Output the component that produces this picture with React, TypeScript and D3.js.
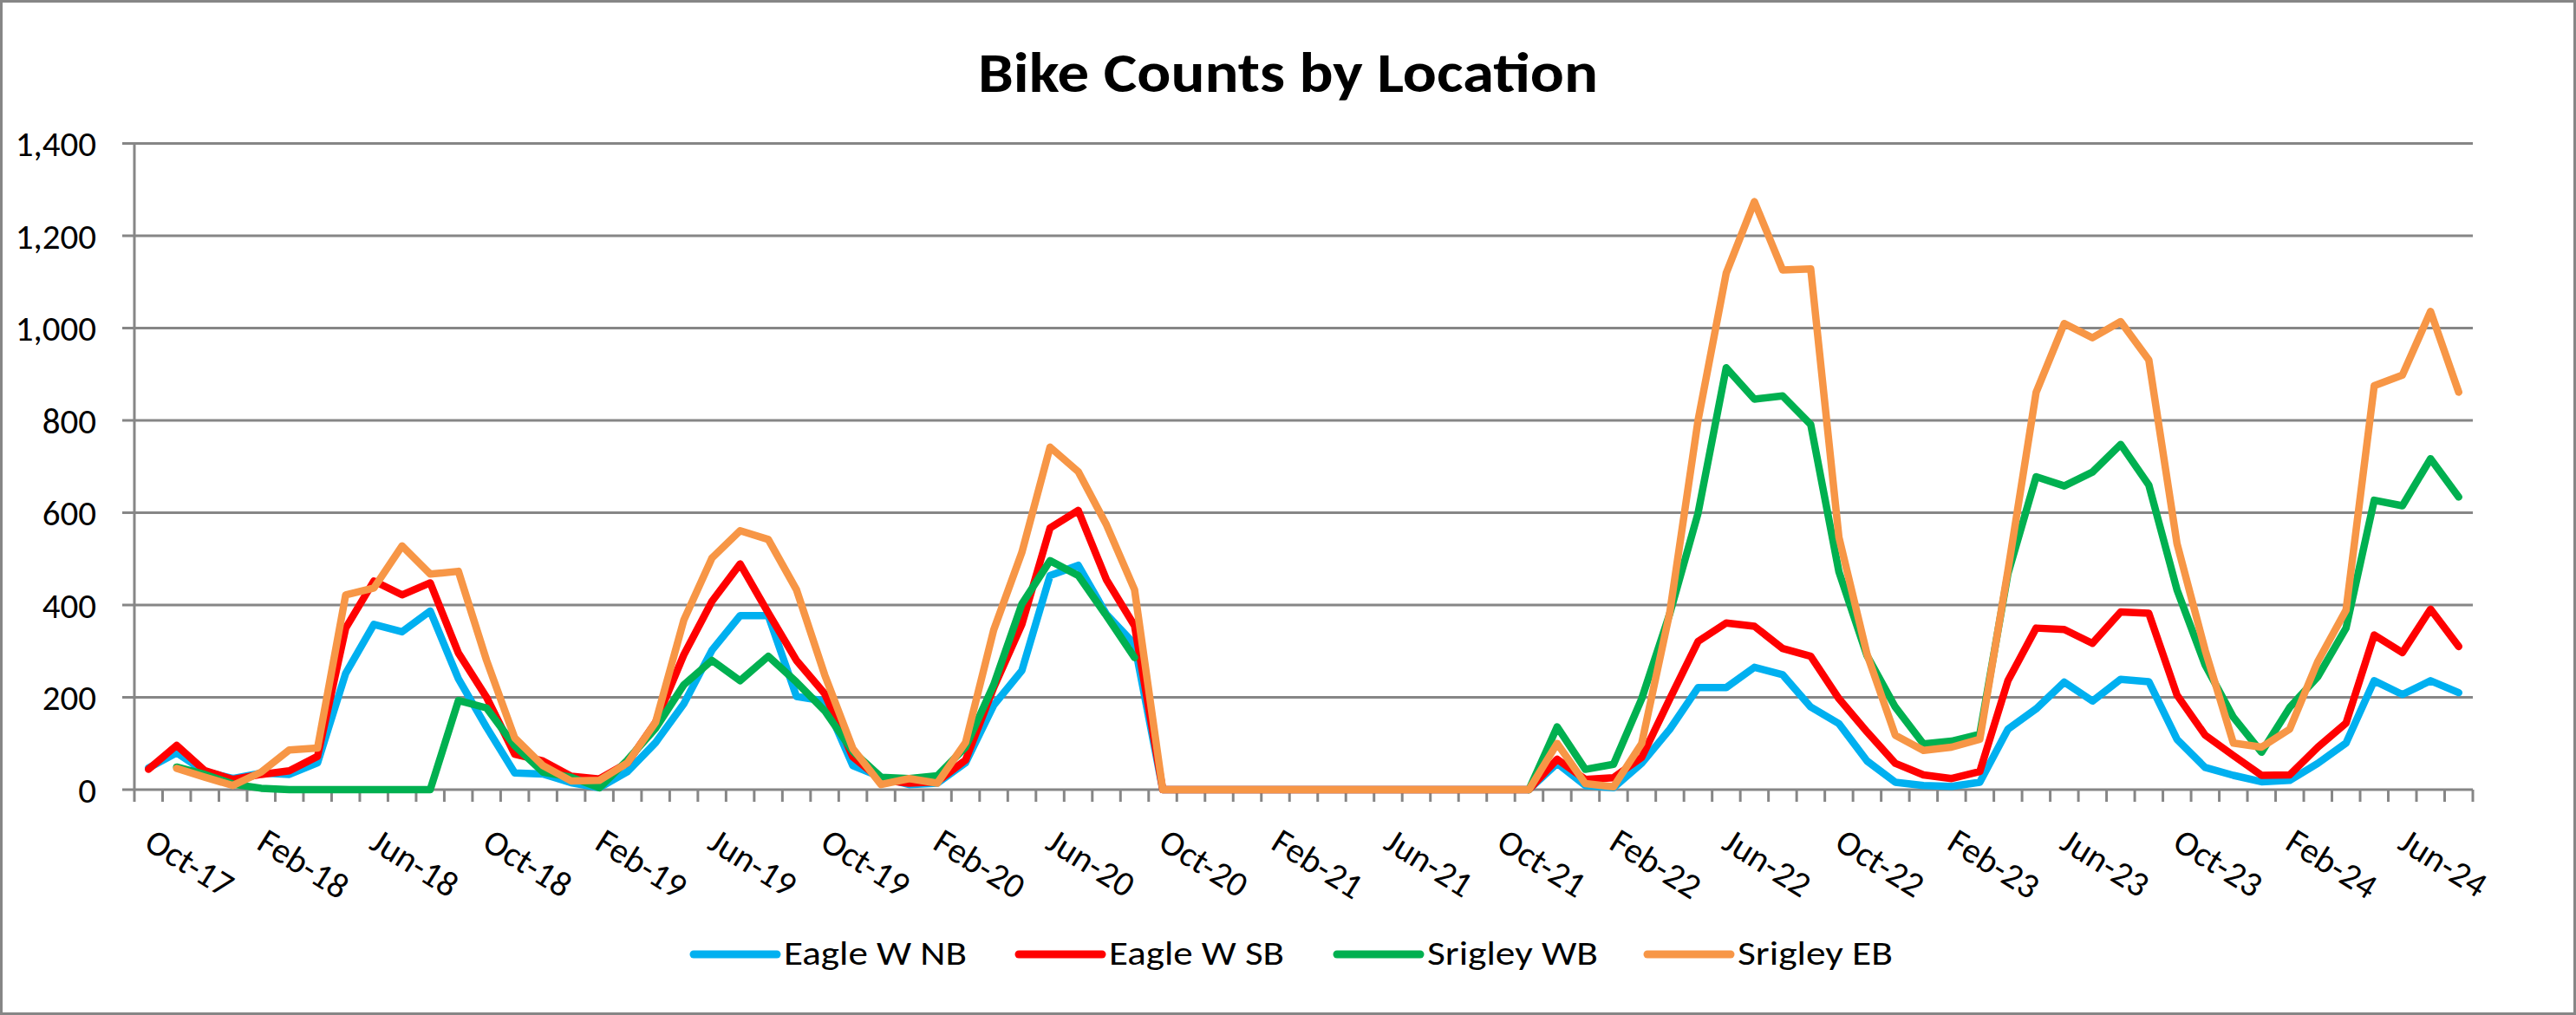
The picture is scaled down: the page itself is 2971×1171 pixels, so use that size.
import React, { useEffect } from "react";
import * as d3 from "d3";

// Monthly categories Oct-17 .. Aug-24 (83 months)
const categories: string[] = d3
  .timeMonth.range(new Date(2017, 9, 1), new Date(2024, 8, 1))
  .map((d) => d3.timeFormat("%b-%y")(d));

const tickLabels: string[] = [
  "Oct-17", "Feb-18", "Jun-18", "Oct-18", "Feb-19", "Jun-19", "Oct-19",
  "Feb-20", "Jun-20", "Oct-20", "Feb-21", "Jun-21", "Oct-21", "Feb-22",
  "Jun-22", "Oct-22", "Feb-23", "Jun-23", "Oct-23", "Feb-24", "Jun-24",
];

const yTicks: number[] = [0, 200, 400, 600, 800, 1000, 1200, 1400];

const Z = 0;
const N = null;

const eagleNB: (number | null)[] = [
  47, 80, 39, 24, 36, 33, 58, 252, 358, 342, 387, 240, 135, 36, 34, 15, 4, 39, 102, 186,
  302, 377, 377, 202, 192, 52, 27, 11, 14, 58, 183, 258, 464, 486, 380, 315,
  Z, Z, Z, Z, Z, Z, Z, Z, Z, Z, Z, Z, Z, Z,
  57, 9, 4, 57, 131, 221, 221, 265, 249, 179, 143, 62, 16, 9, 7, 16, 131, 175, 233, 192,
  239, 234, 109, 48, 31, 17, 20, 57, 101, 236, 206, 236, 210,
];

const eagleSB: (number | null)[] = [
  44, 96, 41, 22, 33, 41, 72, 350, 452, 422, 448, 296, 200, 77, 62, 29, 23, 58, 146, 292,
  408, 489, 383, 280, 208, 71, 21, 14, 17, 64, 221, 358, 567, 605, 455, 355,
  Z, Z, Z, Z, Z, Z, Z, Z, Z, Z, Z, Z, Z, Z,
  66, 22, 26, 70, 197, 321, 361, 354, 306, 289, 197, 125, 57, 32, 24, 39, 236, 350, 347, 317,
  385, 382, 205, 118, 74, 31, 32, 92, 144, 335, 297, 391, 310,
];

const srigleyWB: (number | null)[] = [
  N, 49, 33, 12, 3, 0, 0, 0, 0, 0, 0, 193, 177, 95, 38, 27, 4, 64, 133, 227,
  280, 236, 289, 233, 171, 83, 27, 24, 30, 92, 227, 402, 496, 464, 377, 286,
  N, N, N, N, N, N, N, N, N, N, N, N, N, Z,
  136, 44, 55, 197, 382, 599, 914, 846, 853, 791, 472, 290, 179, 99, 105, 120, 468, 678, 658, 688,
  748, 660, 433, 270, 157, 81, 178, 245, 350, 627, 615, 717, 634,
];

const srigleyEB: (number | null)[] = [
  N, 46, 27, 9, 38, 86, 90, 422, 437, 528, 467, 473, 280, 112, 52, 19, 20, 58, 146, 367,
  502, 561, 542, 433, 249, 89, 11, 24, 14, 102, 346, 514, 742, 689, 574, 433,
  Z, Z, Z, Z, Z, Z, Z, Z, Z, Z, Z, Z, Z, Z,
  100, 13, 6, 100, 385, 800, 1119, 1274, 1126, 1128, 547, 293, 118, 85, 92, 109, 475, 861, 1010, 979,
  1014, 931, 533, 302, 101, 92, 131, 278, 389, 875, 898, 1036, 861,
];

const seriesNames: string[] = ["Eagle W NB", "Eagle W SB", "Srigley WB", "Srigley EB"];
const seriesColors: string[] = ["#00B0F0", "#FF0000", "#00B050", "#F79646"];
const seriesData = [eagleNB, eagleSB, srigleyWB, srigleyEB];

const W = 2971;
const H = 1171;
const PL = 155;
const PR = 2852;
const PT = 165.5;
const PB = 911;
const GRID = "#868686";
const FONT = "Carlito, Calibri, Lato, 'Open Sans', sans-serif";

// legend layout
const legendLineX = [800, 1175, 1542, 1900];
const legendTextLen = [211, 202, 197, 179];

export default function App() {
  useEffect(() => {
    document.body.style.margin = "0";
  }, []);

  const x = d3.scaleBand<string>().domain(categories).range([PL, PR]).paddingInner(0).paddingOuter(0);
  const bw = x.bandwidth();
  const cx = (c: string) => (x(c) as number) + bw / 2;
  const y = d3.scaleLinear().domain([0, 1400]).range([PB, PT]);

  const line = d3
    .line<number | null>()
    .defined((d) => d != null)
    .x((_, i) => cx(categories[i]))
    .y((d) => y(d as number));

  const boundaries = d3.range(categories.length + 1).map((i) => PL + i * bw);

  return (
    <div style={{ position: "absolute", left: 0, top: 0 }}>
      <svg width={W} height={H} style={{ display: "block", background: "#fff" }} fontFamily={FONT}>
        <rect x={0} y={0} width={W} height={H} fill="#fff" />
        <rect x={1.5} y={1.5} width={W - 3} height={H - 3} fill="none" stroke={GRID} strokeWidth={3} />

        <text
          x={W / 2}
          y={106}
          textAnchor="middle"
          fontWeight="bold"
          fontSize={64}
          textLength={715}
          lengthAdjust="spacingAndGlyphs"
          fill="#000"
        >
          Bike Counts by Location
        </text>

        {/* gridlines + y ticks */}
        {yTicks.map((t) => (
          <g key={t}>
            <line x1={PL - 14} x2={PR} y1={y(t)} y2={y(t)} stroke={GRID} strokeWidth={3} />
            <text x={111} y={y(t)} dy="0.36em" textAnchor="end" fontSize={41} fill="#000">
              {d3.format(",")(t)}
            </text>
          </g>
        ))}

        {/* y axis */}
        <line x1={PL} x2={PL} y1={PT} y2={PB} stroke={GRID} strokeWidth={3} />

        {/* x ticks */}
        {boundaries.map((bx, i) => (
          <line key={i} x1={bx} x2={bx} y1={PB} y2={PB + 14} stroke={GRID} strokeWidth={3} />
        ))}

        {/* x labels */}
        {categories.map((c) =>
          tickLabels.includes(c) ? (
            <text
              key={c}
              transform={`translate(${cx(c) - 7},978) rotate(32)`}
              fontSize={41}
              fill="#000"
            >
              {c}
            </text>
          ) : null
        )}

        {/* series */}
        {seriesData.map((s, k) => (
          <path
            key={k}
            d={line(s) || ""}
            fill="none"
            stroke={seriesColors[k]}
            strokeWidth={8.5}
            strokeLinejoin="round"
            strokeLinecap="round"
          />
        ))}

        {/* legend */}
        {seriesNames.map((n, k) => (
          <g key={n}>
            <line
              x1={legendLineX[k]}
              x2={legendLineX[k] + 96}
              y1={1101}
              y2={1101}
              stroke={seriesColors[k]}
              strokeWidth={9}
              strokeLinecap="round"
            />
            <text
              x={legendLineX[k] + 104}
              y={1113}
              fontSize={38}
              fill="#000"
              textLength={legendTextLen[k]}
              lengthAdjust="spacingAndGlyphs"
            >
              {n}
            </text>
          </g>
        ))}
      </svg>
    </div>
  );
}
